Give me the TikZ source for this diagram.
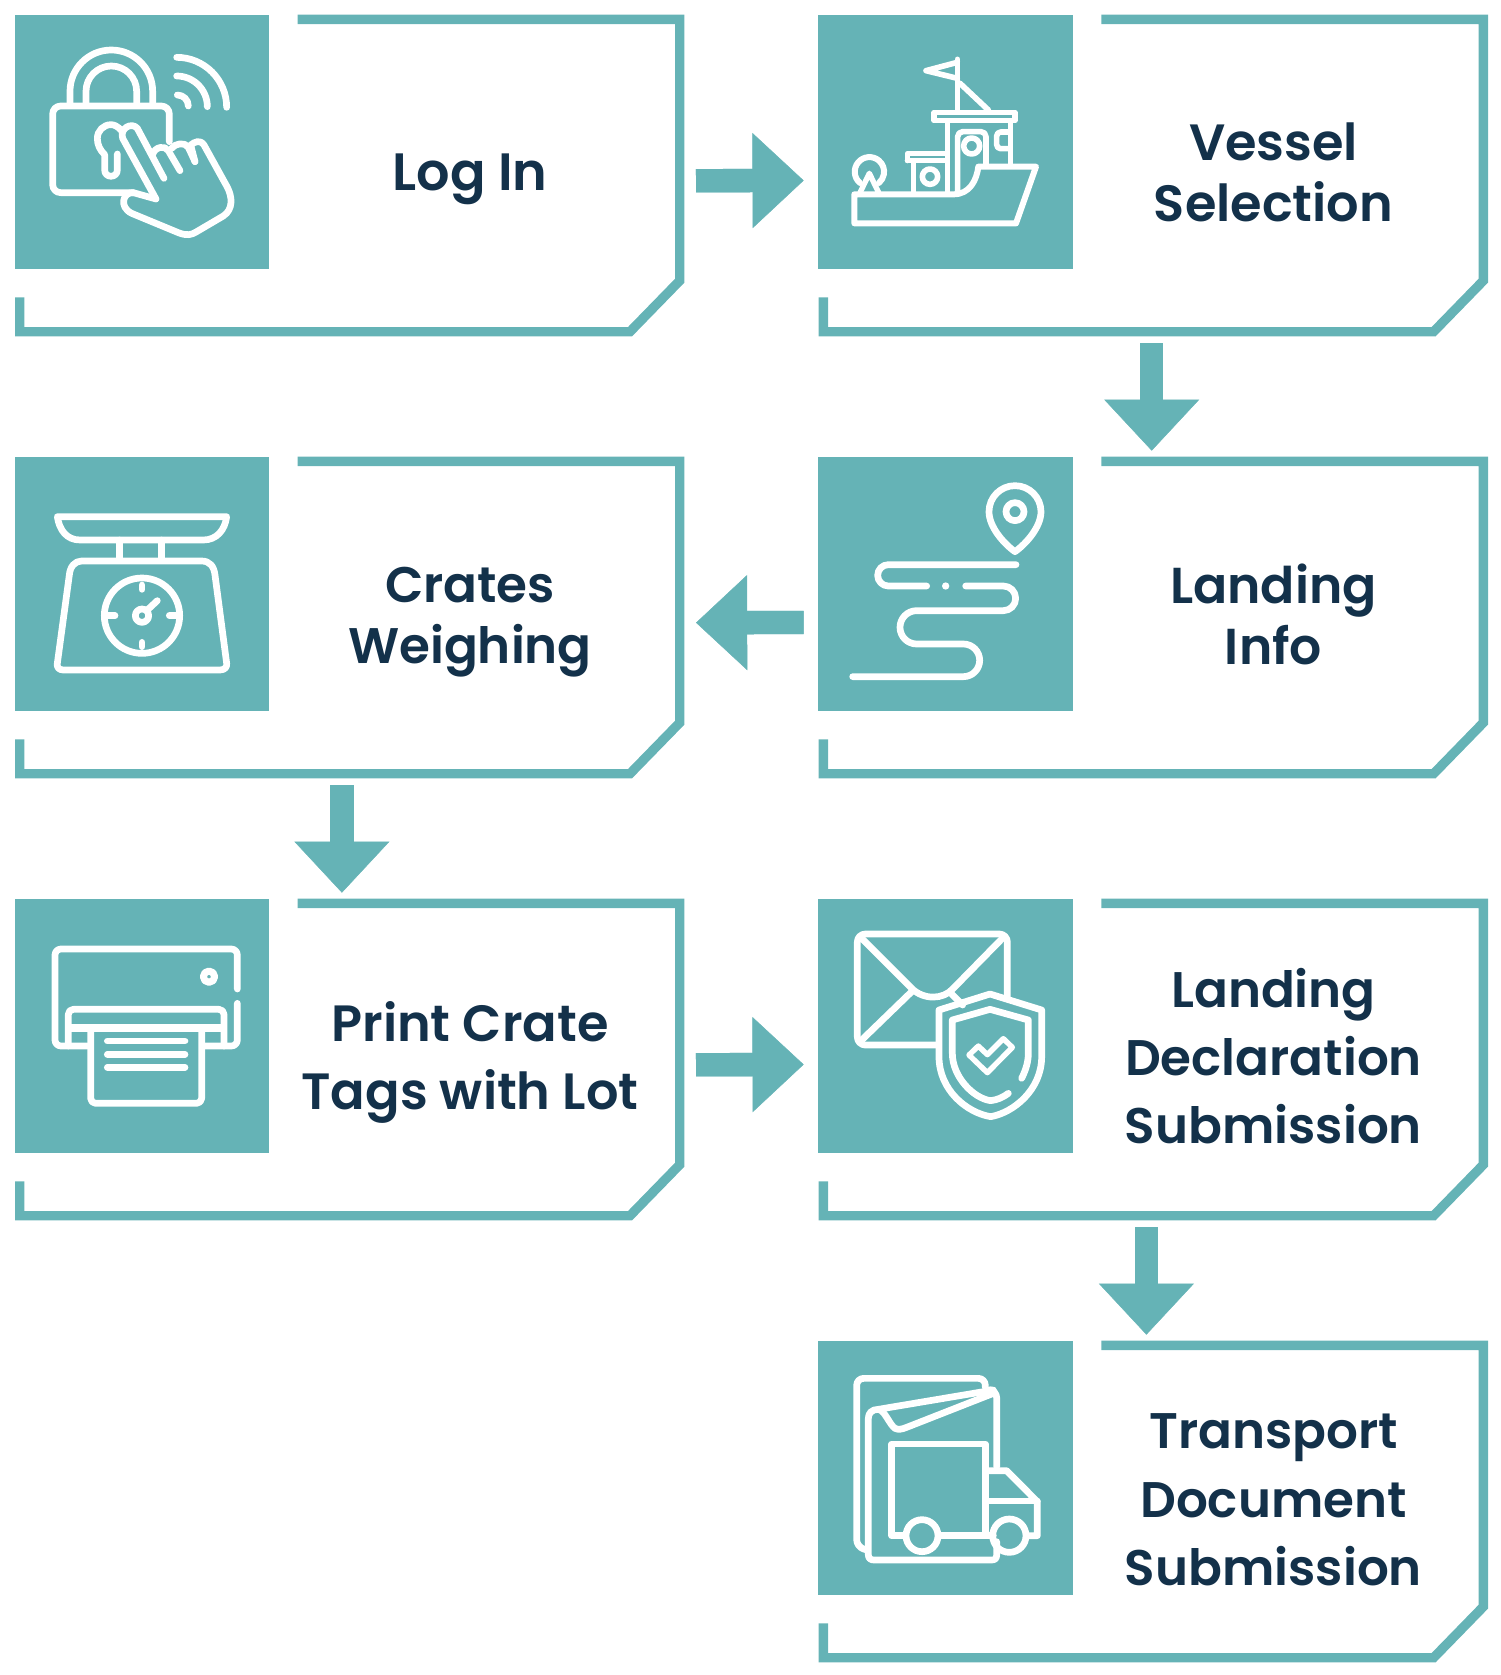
\documentclass[tikz,border=0pt]{standalone}
\usepackage{fontspec}
\setmainfont{Poppins}[BoldFont=Poppins SemiBold]
\usetikzlibrary{arrows.meta}
\definecolor{teal1}{HTML}{65B3B6}
\definecolor{navy1}{HTML}{13314A}
\tikzset{
  iconsq/.style={fill=teal1,minimum width=254.6pt,minimum height=254.6pt,inner sep=0pt,outer sep=0pt,anchor=north west},
  cellbox/.style={minimum width=669.6pt,minimum height=321.6pt,inner sep=0pt,outer sep=0pt,anchor=north west},
  celledge/.style={draw=teal1,line width=9.4pt,miter limit=10},
  lab/.style 2 args={text=navy1,align=center,inner sep=0pt,font=\bfseries\fontsize{#1}{#2}\selectfont},
  flow/.style={draw=teal1,line width=23.3pt,-{Triangle[length=51.2pt,width=95.2pt,fill=teal1,line width=0.5pt]},
    postaction={draw=teal1,-,shorten >=47pt}},
  ic/.style={draw=white,line width=6.7pt,line cap=round,line join=round},
  iconframe/.style={x=0.33333pt,y=-0.33333pt}
}
\newcommand{\cellat}[3]{%
  \node[cellbox] (#1-frame) at (#2,#3) {};
  \node[iconsq] (#1-icon) at (#2,#3) {};
  \draw[celledge,shift={(#2,#3)}] (283,4.7) -- (665,4.7) -- (665,266) -- (615.3,317) -- (5,317) -- (5,282.6);
}
\begin{document}
\begin{tikzpicture}[x=1pt,y=-1pt]
\useasboundingbox (0,0) rectangle (1500,1675);
\cellat{login}{14.7}{14.7}
\cellat{vessel}{818.3}{14.7}
\cellat{crates}{14.7}{456.7}
\cellat{landing}{818.3}{456.7}
\cellat{print}{14.7}{898.7}
\cellat{decl}{818.3}{898.7}
\cellat{trans}{818.3}{1340.7}

\node[lab={52.5pt}{61pt}] (login-label) at (470,179.5) {Log In};
\node[lab={51pt}{61pt}] (vessel-label) at (1273.5,172) {Vessel\\Selection};
\node[lab={50.5pt}{61pt}] (landing-label) at (1273.5,614) {Landing\\Info};
\node[lab={50pt}{61pt}] (crates-label) at (470,622.5) {Crates\\Weighing};
\node[lab={51pt}{68.3pt}] (print-label) at (470,1062.3) {Print Crate\\Tags with Lot};
\node[lab={50pt}{68.3pt}] (decl-label) at (1273.5,1056) {Landing\\Declaration\\Submission};
\node[lab={50pt}{68.3pt}] (trans-label) at (1273.5,1500) {Transport\\Document\\Submission};

% connectors
\draw[flow] ([shift={(11.7,5.2)}]login-frame.east) -- ([shift={(-14.6,38.5)}]vessel-icon.west);
\draw[flow] ([shift={(-1.4,7)}]vessel-frame.south) -- ([shift={(-1.4,-6)}]landing-frame.north);
\draw[flow] ([shift={(-14.6,38.5)}]landing-icon.west) -- ([shift={(11.7,5.2)}]crates-frame.east);
\draw[flow] ([shift={(-7.6,7)}]crates-frame.south) -- ([shift={(-7.6,-6)}]print-frame.north);
\draw[flow] ([shift={(11.7,5.2)}]print-frame.east) -- ([shift={(-14.6,38.5)}]decl-icon.west);
\draw[flow] ([shift={(-6.7,7)}]decl-frame.south) -- ([shift={(-6.7,-6)}]trans-frame.north);

% --- icon: lock and hand
\begin{scope}[shift={(0,0)},iconframe]
\draw[ic,rounded corners=8pt] (508,425) -- (508,318) -- (158,318) -- (158,578) -- (400,578);
\draw[ic] (210,308) -- (210,274) arc (180:360:124) -- (458,308);
\draw[ic] (258,308) -- (258,274) arc (180:360:76) -- (410,308);
\draw[ic] (530,172) arc (270:360:150);
\draw[ic] (530,228) arc (270:360:92);
\draw[ic] (532,285) arc (270:360:33);
\draw[ic] (365,392) .. controls (352,378) and (342,374) .. (333,374) .. controls (310,374) and (292,393) .. (292,415) .. controls (292,435) and (300,450) .. (314,464) -- (314,510) .. controls (314,535) and (352,535) .. (352,510) -- (352,462);
\draw[ic] (468,597) -- (368,415) .. controls (358,385) and (395,365) .. (412,385) -- (492,535);
\draw[ic] (468,597) -- (400,578) .. controls (370,575) and (355,620) .. (395,640) -- (535,698) .. controls (560,708) and (575,705) .. (590,695) -- (670,648) .. controls (700,628) and (698,590) .. (680,558) -- (612,435) .. controls (600,418) and (585,425) .. (572,435) -- (585,485);
\draw[ic] (458,463) .. controls (465,440) and (495,435) .. (505,452) -- (540,512);
\draw[ic] (515,445) .. controls (525,430) and (555,425) .. (565,442) -- (585,485);
\end{scope}

% --- icon: ship
\begin{scope}[shift={(800,0)},iconframe]
\draw[ic,line width=6pt] (163,583) -- (460,583) .. controls (510,583) and (530,540) .. (535,500) -- (708,500) -- (648,670) -- (163,670) -- cycle;
\draw[ic,line width=6pt] (180,549) arc (130:410:44);
\draw[ic,line width=5.4pt] (180,578) -- (208,520) -- (236,578);
\draw[ic,line width=5.2pt] (322,482) -- (322,460) -- (438,460);
\draw[ic,line width=5.2pt] (322,482) -- (438,482);
\draw[ic,line width=5.6pt] (340,485) -- (340,578);
\draw[ic,line width=5.6pt] (443,365) -- (443,578);
\draw[ic,line width=5.6pt] (632,365) -- (632,495);
\draw[ic,line width=5.2pt] (402,337) rectangle (645,362);
\draw[ic,line width=5.6pt,rounded corners=5pt] (473,575) -- (473,395) -- (558,395) -- (558,495);
\draw[ic,line width=5.6pt] (390,530) circle (23);
\draw[ic,line width=5.6pt] (515,438) circle (24);
\draw[ic,line width=5.6pt,rounded corners=4pt] (625,396) -- (590,396) -- (590,446) -- (625,446);
\draw[ic,line width=5.6pt] (472,178) -- (472,330);
\draw[ic,line width=5.6pt] (472,187) -- (378,212) -- (472,235);
\draw[ic,line width=5.6pt] (480,250) -- (565,330);
\end{scope}

% --- icon: scale
\begin{scope}[shift={(0,450)},iconframe]
\draw[ic] (172,200) -- (680,200) .. controls (675,240) and (650,270) .. (610,270) -- (240,270) .. controls (200,270) and (178,240) .. (172,200) -- cycle;
\draw[ic] (358,270) -- (358,330);
\draw[ic] (484,270) -- (484,330);
\draw[ic] (245,333) -- (605,333) .. controls (630,333) and (642,350) .. (645,375) -- (680,640) .. controls (682,650) and (675,660) .. (660,660) -- (190,660) .. controls (175,660) and (170,650) .. (172,640) -- (208,375) .. controls (210,350) and (225,333) .. (245,333) -- cycle;
\draw[ic] (426,497) circle (113);
\draw[ic] (426,405) -- (426,418);
\draw[ic] (426,577) -- (426,590);
\draw[ic] (320,497) -- (345,497);
\draw[ic] (508,497) -- (532,497);
\draw[ic] (426,497) circle (20);
\draw[ic] (442,480) -- (472,452);
\end{scope}

% --- icon: route
\begin{scope}[shift={(800,450)},iconframe]
\draw[ic] (645,305) .. controls (610,280) and (567,230) .. (567,185) arc (180:360:78) .. controls (723,230) and (680,280) .. (645,305) -- cycle;
\draw[ic] (645,185) circle (27);
\draw[ic] (648,344) -- (265,344) arc (270:90:32) -- (380,408);
\draw[ic] (497,408) -- (610,408) arc (270:450:37) -- (350,482) arc (270:90:50) -- (490,582) arc (270:450:49) -- (158,680);
\fill[white] (437,408) circle (11);
\end{scope}

% --- icon: printer
\begin{scope}[shift={(0,890)},iconframe]
\draw[ic,rounded corners=6pt] (712,297) -- (712,177) -- (165,177) -- (165,468) -- (262,468);
\draw[ic,rounded corners=6pt] (712,340) -- (712,468) -- (615,468);
\draw[ic,rounded corners=5pt] (205,468) -- (205,358) -- (672,358) -- (672,468);
\draw[ic,line width=8pt,line cap=butt] (205,415) -- (672,415);
\draw[ic,rounded corners=5pt] (272,420) -- (272,640) -- (605,640) -- (605,420);
\draw[ic] (322,453) -- (555,453);
\draw[ic] (322,493) -- (555,493);
\draw[ic] (322,532) -- (555,532);
\draw[ic,line width=7pt] (627,260) circle (17);
\end{scope}

% --- icon: envelope and shield
\begin{scope}[shift={(800,890)},iconframe]
\draw[ic,rounded corners=8pt] (622,320) -- (622,132) -- (172,132) -- (172,465) -- (415,465);
\draw[ic] (180,140) -- (335,295) .. controls (370,330) and (430,330) .. (460,295) -- (612,140);
\draw[ic] (180,455) -- (335,305);
\draw[ic] (455,312) -- (488,345);
\draw[ic] (570,312) -- (725,360) -- (725,500) .. controls (725,600) and (640,668) .. (572,680) .. controls (500,668) and (417,600) .. (417,500) -- (417,360) -- cycle;
\draw[ic] (665,565) .. controls (680,535) and (685,510) .. (685,490) -- (685,390) -- (570,358) -- (457,390) -- (457,490) .. controls (457,560) and (520,625) .. (572,632) .. controls (590,630) and (610,622) .. (625,610);
\draw[ic,line width=5.4pt] (507,495) -- (535,468) -- (562,494) -- (610,446) -- (637,472) -- (562,548) -- cycle;
\end{scope}

% --- icon: documents and truck
\begin{scope}[shift={(800,1330)},iconframe]
\draw[ic,rounded corners=7pt] (556,172) -- (556,145) -- (170,145) -- (170,650) -- (200,660);
\draw[ic,rounded corners=7pt] (590,410) -- (590,182) -- (575,180);
\draw[ic] (235,238) -- (580,180);
\draw[ic] (235,238) .. controls (215,238) and (205,250) .. (205,265) -- (205,675) .. controls (205,685) and (212,690) .. (222,690) -- (575,690) .. controls (585,690) and (590,685) .. (590,675) -- (590,635);
\draw[ic] (240,240) .. controls (255,245) and (270,285) .. (285,295) .. controls (295,300) and (305,298) .. (320,292) -- (580,190);
\draw[ic] (315,617) -- (275,617) -- (275,342) -- (556,342) -- (556,610);
\draw[ic] (420,617) -- (580,617);
\draw[ic] (556,422) -- (620,422) -- (712,515) -- (712,617) -- (688,617);
\draw[ic] (556,513) -- (712,513);
\draw[ic] (366,617) circle (48);
\draw[ic] (628,617) circle (50);
\end{scope}
\end{tikzpicture}
\end{document}
